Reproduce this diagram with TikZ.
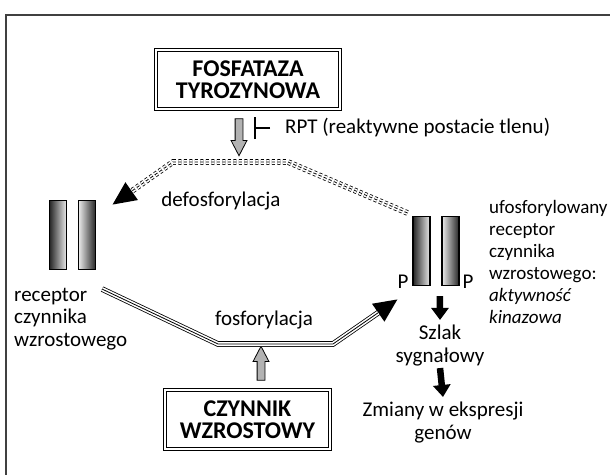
\documentclass[tikz,border=0pt]{standalone}
\usepackage{fontspec}
\setmainfont{Carlito}
\usetikzlibrary{arrows.meta,shapes.arrows}

\newcommand{\lbltext}{\fontsize{21}{22.5}\selectfont}
\newcommand{\sidetext}{\fontsize{19}{22}\selectfont}
\newcommand{\boxtext}{\fontsize{24}{22}\selectfont\bfseries}

\tikzset{
  framebox/.style={draw, line width=1pt, double, double distance=2pt,
    minimum height=59pt, align=center, font=\boxtext},
  bar/.style={draw, line width=1.1pt, minimum width=17pt, minimum height=69pt, inner sep=0pt},
  barA/.style={bar, left color=black!85, right color=black!8},
  barB/.style={bar, left color=black!8, right color=black!85},
  grayarrow/.style={single arrow, draw, fill=black!30, line width=0.8pt, inner sep=3.5pt,
    single arrow head extend=4pt, single arrow tip angle=55, minimum height=#1},
  blockarrow/.style={line width=6.5pt, -{Triangle[length=12pt,width=17pt]}},
  tripleline/.style={line width=5.6pt, -{Triangle[length=24pt,width=20pt]},
    postaction={draw=white, line width=4pt, -, shorten >=24pt},
    postaction={draw=black, line width=0.8pt, -, shorten >=24pt}},
  tripledash/.style={tripleline, dash pattern=on 3pt off 2.5pt},
  lbl/.style={font=\lbltext, inner sep=0pt}
}

\begin{document}
\begin{tikzpicture}[x=1pt,y=-1pt]
    \useasboundingbox (0,0) rectangle (610,474);
    \draw[line width=1.2pt, black!75] (6,480) -- (6,15) -- (620,15);

    % enzyme and growth factor
    \node[framebox, minimum width=184pt] (fos) at (248,79.5) {FOSFATAZA\\TYROZYNOWA};
    \node[framebox, minimum width=165pt] (czy) at (247.5,419.5) {CZYNNIK\\WZROSTOWY};

    % receptors
    \node[barA] (lb1) at (58,235) {};
    \node[barB] (lb2) at (87,235) {};
    \node[barA] (rb1) at (421.5,251) {};
    \node[barB] (rb2) at (450.5,251) {};
    \node[lbl] (pl) at (403,282) {P};
    \node[lbl] (pr) at (468,282) {P};

    % labels
    \node[lbl, anchor=west, align=left] (recl) at (14,319) {receptor\\czynnika\\wzrostowego};
    \node[lbl, font=\sidetext, anchor=west, align=left] (recr) at (489,261.5)
      {ufosforylowany\\receptor\\czynnika\\wzrostowego:\\\emph{aktywność}\\\emph{kinazowa}};
    \node[lbl] (defos) at (221,201) {defosforylacja};
    \node[lbl] (fosfo) at (264,320) {fosforylacja};
    \node[lbl, anchor=west] (rpt) at (285,128) {RPT (reaktywne postacie tlenu)};
    \node[lbl, align=center] (szlak) at (440,345.5) {Szlak\\sygnałowy};
    \node[lbl, align=center] (zmiany) at (443,422.5) {Zmiany w ekspresji\\genów};

    % gray arrows
    \node[grayarrow=37pt, rotate=-90] (downarr) at (239,133.5) {};
    \node[grayarrow=34pt, rotate=90] (uparr) at (261,367) {};
    \draw[line width=1.6pt, -{Bar[width=22pt]}] ([xshift=-15pt]rpt.west) -- ++(-16pt,0);

    % dephosphorylation and phosphorylation
    \coordinate (dr) at (288,162);
    \coordinate (dl) at (173,162);
    \draw[tripledash] ([shift={(-5pt,3pt)}]rb1.north west) -- (dr) -- (dl)
      -- ([shift={(16pt,-5pt)}]lb2.north east);
    \coordinate (sl) at (218,344);
    \coordinate (sr) at (333,344);
    \draw[tripleline] ([shift={(6pt,-19pt)}]lb2.south east) -- (sl) -- (sr)
      -- ([shift={(-14.5pt,-13pt)}]rb1.south west);

    % signalling
    \draw[blockarrow] ([shift={(-1.5pt,-10pt)}]rb2.south west) -- ([yshift=5pt]szlak.north);
    \draw[blockarrow] ([yshift=-2pt]szlak.south) -- ([yshift=5pt]zmiany.north);
\end{tikzpicture}
\end{document}
